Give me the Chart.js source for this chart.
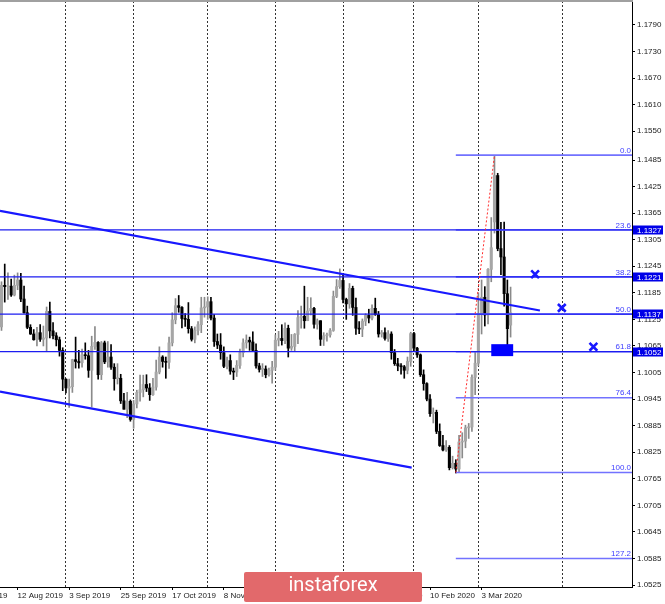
<!DOCTYPE html>
<html><head><meta charset="utf-8">
<style>html,body{margin:0;padding:0;background:#fff;overflow:hidden}canvas{display:block}</style>
<script src="https://cdn.jsdelivr.net/npm/chart.js@4.4.1/dist/chart.umd.min.js"></script>
</head><body>
<canvas id="c" width="665" height="604"></canvas>
<script>
// EUR/USD daily, 5 Aug 2019 (index 0) .. 16 Mar 2020 (index 158)
const open  = [1.1108,1.1202,1.1199,1.1200,1.1180,1.1202,1.1214,1.1171,1.1140,1.1107,
1.1092,1.1079,1.1095,1.1080,1.1083,1.1143,1.1099,1.1088,1.1079,1.1055,
1.0990,1.0970,1.0973,1.1034,1.1030,1.1027,1.1045,1.1043,1.1010,1.1064,
1.1073,1.1000,1.1072,1.1029,1.1040,1.1017,1.0991,1.0992,1.0941,1.0922,
1.0940,1.0899,1.0934,1.0960,1.0966,1.0978,1.0970,1.0955,1.0972,1.1006,
1.1040,1.1030,1.1028,1.1072,1.1124,1.1156,1.1152,1.1127,1.1125,1.1104,
1.1080,1.1100,1.1113,1.1151,1.1153,1.1165,1.1128,1.1075,1.1067,1.1050,
1.1019,1.1032,1.1008,1.1006,1.1021,1.1050,1.1072,1.1078,1.1074,1.1055,
1.1020,1.1012,1.1013,1.1000,1.1010,1.1017,1.1078,1.1082,1.1077,1.1105,
1.1060,1.1064,1.1091,1.1129,1.1132,1.1122,1.1144,1.1150,1.1114,1.1122,
1.1080,1.1088,1.1090,1.1100,1.1177,1.1199,1.1213,1.1170,1.1160,1.1195,
1.1152,1.1105,1.1103,1.1121,1.1134,1.1128,1.1150,1.1136,1.1092,1.1095,
1.1082,1.1092,1.1050,1.1025,1.1020,1.1018,1.1010,1.1030,1.1093,1.1060,
1.1045,1.1000,1.0980,1.0945,1.0912,1.0915,1.0872,1.0840,1.0830,1.0836,
1.0790,1.0800,1.0787,1.0848,1.0850,1.0880,1.0882,1.0994,1.1026,1.1138,
1.1175,1.1135,1.1238,1.1345,1.1450,1.1285,1.1266,1.1183,1.1112];
const high  = [1.1210,1.1250,1.1230,1.1216,1.1225,1.1230,1.1229,1.1200,1.1155,1.1113,
1.1102,1.1107,1.1113,1.1110,1.1153,1.1164,1.1118,1.1095,1.1085,1.1061,
1.0991,1.0990,1.1035,1.1085,1.1055,1.1058,1.1072,1.1055,1.1087,1.1109,
1.1075,1.1075,1.1076,1.1075,1.1068,1.1025,1.1025,1.1001,1.0958,1.0960,
1.0943,1.0942,1.0965,1.0999,1.0999,1.1000,1.0980,1.0992,1.1033,1.1063,
1.1043,1.1040,1.1085,1.1140,1.1172,1.1179,1.1154,1.1138,1.1163,1.1109,
1.1108,1.1120,1.1175,1.1175,1.1176,1.1175,1.1136,1.1092,1.1093,1.1063,
1.1040,1.1045,1.1015,1.1032,1.1058,1.1081,1.1090,1.1085,1.1097,1.1070,
1.1026,1.1025,1.1020,1.1015,1.1030,1.1090,1.1098,1.1113,1.1117,1.1112,
1.1091,1.1093,1.1145,1.1155,1.1200,1.1175,1.1174,1.1152,1.1126,1.1122,
1.1095,1.1094,1.1104,1.1189,1.1215,1.1239,1.1228,1.1173,1.1206,1.1200,
1.1173,1.1120,1.1126,1.1138,1.1148,1.1158,1.1173,1.1143,1.1100,1.1106,
1.1100,1.1097,1.1057,1.1037,1.1025,1.1021,1.1040,1.1096,1.1096,1.1062,
1.1047,1.1011,1.0982,1.0955,1.0925,1.0920,1.0889,1.0863,1.0851,1.0840,
1.0816,1.0808,1.0863,1.0869,1.0886,1.0890,1.1000,1.1053,1.1185,1.1214,
1.1199,1.1240,1.1355,1.1495,1.1455,1.1344,1.1345,1.1214,1.1198];
const low   = [1.1100,1.1164,1.1170,1.1177,1.1178,1.1192,1.1165,1.1139,1.1104,1.1091,
1.1078,1.1065,1.1075,1.1065,1.1052,1.1083,1.1081,1.1065,1.1042,1.0964,
1.0959,1.0926,1.0960,1.1015,1.1015,1.1017,1.1035,1.0994,1.0927,1.1057,
1.0990,1.0989,1.1025,1.1017,1.1012,1.0965,1.0979,1.0935,1.0922,1.0903,
1.0895,1.0879,1.0925,1.0940,1.0950,1.0962,1.0942,1.0953,1.0965,1.1002,
1.1017,1.0992,1.1014,1.1065,1.1115,1.1141,1.1106,1.1109,1.1094,1.1076,
1.1072,1.1090,1.1095,1.1130,1.1125,1.1124,1.1064,1.1059,1.1035,1.1016,
1.1013,1.1001,1.0989,1.0996,1.1014,1.1040,1.1060,1.1055,1.1053,1.1015,
1.1006,1.0996,1.0993,1.0997,1.0981,1.1010,1.1065,1.1067,1.1070,1.1040,
1.1055,1.1053,1.1070,1.1105,1.1105,1.1122,1.1135,1.1105,1.1103,1.1066,
1.1066,1.1076,1.1085,1.1098,1.1174,1.1195,1.1162,1.1125,1.1150,1.1134,
1.1091,1.1093,1.1086,1.1111,1.1117,1.1124,1.1134,1.1085,1.1085,1.1078,
1.1075,1.1035,1.1021,1.1009,1.1001,1.0992,1.1002,1.1019,1.1054,1.1039,
1.0996,1.0965,1.0941,1.0906,1.0891,1.0867,1.0838,1.0828,1.0827,1.0785,
1.0787,1.0778,1.0780,1.0812,1.0835,1.0856,1.0872,1.0955,1.1020,1.1092,
1.1110,1.1115,1.1210,1.1320,1.1280,1.1226,1.1155,1.1055,1.1085];
const close = [1.1202,1.1199,1.1200,1.1180,1.1202,1.1214,1.1171,1.1140,1.1107,1.1092,
1.1079,1.1095,1.1080,1.1083,1.1143,1.1099,1.1088,1.1079,1.1055,1.0990,
1.0970,1.0973,1.1034,1.1030,1.1027,1.1045,1.1043,1.1010,1.1064,1.1073,
1.1000,1.1072,1.1029,1.1040,1.1017,1.0991,1.0992,1.0941,1.0922,1.0940,
1.0899,1.0934,1.0960,1.0966,1.0978,1.0970,1.0955,1.0972,1.1006,1.1040,
1.1030,1.1028,1.1072,1.1124,1.1156,1.1152,1.1127,1.1125,1.1104,1.1080,
1.1100,1.1113,1.1151,1.1153,1.1165,1.1128,1.1075,1.1067,1.1050,1.1019,
1.1032,1.1008,1.1006,1.1021,1.1050,1.1072,1.1078,1.1074,1.1055,1.1020,
1.1012,1.1013,1.1000,1.1010,1.1017,1.1078,1.1082,1.1077,1.1105,1.1060,
1.1064,1.1091,1.1129,1.1132,1.1122,1.1144,1.1150,1.1114,1.1122,1.1080,
1.1088,1.1090,1.1100,1.1177,1.1199,1.1213,1.1170,1.1160,1.1195,1.1152,
1.1105,1.1103,1.1121,1.1134,1.1128,1.1150,1.1136,1.1092,1.1095,1.1082,
1.1092,1.1050,1.1025,1.1020,1.1018,1.1010,1.1030,1.1093,1.1060,1.1045,
1.1000,1.0980,1.0945,1.0912,1.0915,1.0872,1.0840,1.0830,1.0836,1.0790,
1.0800,1.0787,1.0848,1.0850,1.0880,1.0882,1.0994,1.1026,1.1138,1.1175,
1.1135,1.1238,1.1287,1.1450,1.1285,1.1266,1.1183,1.1104,1.1140];

const yTickValues = [1.1790,1.1730,1.1670,1.1610,1.1550,1.1485,1.1425,1.1365,1.1305,1.1245,1.1185,
                     1.1125,1.1065,1.1005,1.0945,1.0885,1.0825,1.0765,1.0705,1.0645,1.0585,1.0525];
const xTickIndex  = [-11,5,21,37,53,69,85,101,117,133,149];
const xTickLabels = ["19 Jul 2019","12 Aug 2019","3 Sep 2019","25 Sep 2019","17 Oct 2019","8 Nov 2019",
                     "2 Dec 2019","24 Dec 2019","17 Jan 2020","10 Feb 2020","3 Mar 2020"];
const monthStartIndex = [20,41,64,85,106,128,148,174];

const levelLines = [1.1327,1.1221,1.1137,1.1052];
const fibNames  = ["0.0","23.6","38.2","50.0","61.8","76.4","100.0","127.2"];
const fibLevels = [1.1496,1.1327,1.1221,1.1137,1.1052,1.0948,1.0779,1.0585];
const fibLowIndex = 141, fibHighIndex = 153;
const upperChannel = [{x:-0.47,y:1.1370},{x:167.1,y:1.1145}];
const lowerChannel = [{x:-0.47,y:1.0962},{x:127.3,y:1.0790}];
const crossMarks   = [{x:165.6,y:1.1227},{x:173.9,y:1.1151},{x:183.7,y:1.1063}];
const targetZone   = {x0:152.0,x1:158.8,yTop:1.1069,yBottom:1.1042};

const X_MIN = -0.4655, X_MAX = 195.68, Y_MIN = 1.05205, Y_MAX = 1.18442;
const FONT = "'Liberation Sans', Arial, sans-serif";
const BLUE = '#1818ff', FIBBLUE = '#7272ff';

const up = i => close[i] >= open[i];
const wickData = open.map((_, i) => ({x: i, y: [low[i], high[i]]}));
const bodyData = open.map((_, i) => ({x: i, y: [open[i], close[i]]}));

const datasets = [];
crossMarks.forEach(p => datasets.push({type:'line', data:[p], showLine:false, pointStyle:'crossRot',
  pointRadius:5.5, pointBorderWidth:2.6, pointBorderColor:BLUE, pointBackgroundColor:BLUE, order:0}));
datasets.push({type:'line', data:[{x:fibLowIndex,y:fibLevels[6]},{x:fibHighIndex,y:fibLevels[0]}],
  borderColor:'#ff2a2a', borderWidth:1, borderDash:[2,2], pointRadius:0, order:1});
[upperChannel, lowerChannel].forEach(d => datasets.push({type:'line', data:d, borderColor:BLUE,
  borderWidth:2.2, pointRadius:0, order:1}));
levelLines.forEach(v => datasets.push({type:'line', data:[{x:X_MIN,y:v},{x:X_MAX,y:v}],
  borderColor:'#1c1cf0', borderWidth:1.2, pointRadius:0, order:2}));
fibLevels.forEach(v => datasets.push({type:'line', data:[{x:fibLowIndex,y:v},{x:X_MAX,y:v}],
  borderColor:FIBBLUE, borderWidth:1.6, pointRadius:0, order:3}));
datasets.push({type:'bar', data:bodyData, barThickness:2.4, minBarLength:1, grouped:false, order:10,
  backgroundColor: c => up(c.dataIndex) ? '#a6a6a6' : '#000000', borderWidth:0});
datasets.push({type:'bar', data:wickData, barThickness:1, grouped:false, order:11,
  backgroundColor: c => up(c.dataIndex) ? '#8a8a8a' : '#000000', borderWidth:0});

const overlay = {
  id:'overlay',
  afterDatasetsDraw(chart){
    const {ctx, scales:{x, y}, chartArea:a} = chart;
    ctx.save();
    ctx.fillStyle = '#0000ff';
    const bx0 = x.getPixelForValue(targetZone.x0), bx1 = x.getPixelForValue(targetZone.x1);
    const by0 = y.getPixelForValue(targetZone.yTop), by1 = y.getPixelForValue(targetZone.yBottom);
    ctx.fillRect(bx0, by0, bx1-bx0, by1-by0);
    ctx.font = '8px ' + FONT;
    ctx.fillStyle = '#4040ff';
    ctx.textAlign = 'right'; ctx.textBaseline = 'bottom';
    fibLevels.forEach((v, k) => ctx.fillText(fibNames[k], a.right - 1, y.getPixelForValue(v) - 0.5));
    ctx.restore();
  },
  afterDraw(chart){
    const {ctx, scales:{y}, chartArea:a} = chart;
    ctx.save();
    ctx.fillStyle = '#a0a0a0';
    ctx.fillRect(0, 0, a.right + 1, 2);
    ctx.font = '8px ' + FONT;
    ctx.textAlign = 'left'; ctx.textBaseline = 'middle';
    levelLines.forEach(v => {
      const py = Math.round(y.getPixelForValue(v));
      ctx.fillStyle = '#0000e8';
      ctx.fillRect(a.right + 1, py - 4.5, 30, 9);
      ctx.fillStyle = '#ffffff';
      ctx.fillText(v.toFixed(4), a.right + 5, py + 0.5);
    });
    ctx.fillStyle = '#e2696b';
    ctx.beginPath();
    if (ctx.roundRect) ctx.roundRect(244, 572, 178, 30, 2); else ctx.rect(244, 572, 178, 30);
    ctx.fill();
    ctx.fillStyle = '#ffffff';
    ctx.font = '20px Roboto, "Open Sans", sans-serif';
    ctx.textAlign = 'center'; ctx.textBaseline = 'middle';
    ctx.fillText('instaforex', 333, 586);
    ctx.restore();
  }
};

function zeroPad(s){ s.paddingLeft = 0; s.paddingRight = 0; s.paddingTop = 0; s.paddingBottom = 0; }

new Chart(document.getElementById('c'), {
  type:'bar',
  data:{datasets},
  plugins:[overlay],
  options:{
    responsive:false, animation:false, devicePixelRatio:1,
    layout:{autoPadding:false, padding:{top:1,left:0,right:0,bottom:0}},
    plugins:{legend:{display:false}, tooltip:{enabled:false}},
    scales:{
      x:{type:'linear', position:'bottom', min:X_MIN, max:X_MAX, offset:false,
        afterBuildTicks: s => { s.ticks = xTickIndex.map(v => ({value:v})); },
        afterFit: s => { s.height = 17; zeroPad(s); },
        ticks:{autoSkip:false, maxRotation:0, minRotation:0, align:'start', padding:1,
          color:'#1a1a1a', font:{family:FONT, size:8},
          callback:(v, i) => xTickLabels[i]},
        grid:{display:true, drawOnChartArea:false, drawTicks:true, tickLength:3, color:'#000', offset:false},
        border:{display:true, color:'#000', width:1}},
      x2:{type:'linear', position:'top', min:X_MIN, max:X_MAX, offset:false,
        afterBuildTicks: s => { s.ticks = monthStartIndex.map(v => ({value:v})); },
        afterFit: s => { s.height = 0; zeroPad(s); },
        ticks:{display:false},
        grid:{display:true, drawOnChartArea:true, drawTicks:false, color:'#333', lineWidth:1, offset:false},
        border:{display:false, dash:[2,2]}},
      y:{type:'linear', position:'right', min:Y_MIN, max:Y_MAX, beginAtZero:false,
        afterBuildTicks: s => { s.ticks = yTickValues.map(v => ({value:v})); },
        afterFit: s => { s.width = 33; zeroPad(s); },
        ticks:{autoSkip:false, padding:2, color:'#1a1a1a', font:{family:FONT, size:8},
          callback: v => Number(v).toFixed(4)},
        grid:{display:true, drawOnChartArea:false, drawTicks:true, tickLength:3, color:'#000'},
        border:{display:true, color:'#000', width:1}}
    }
  }
});
</script>
</body></html>
